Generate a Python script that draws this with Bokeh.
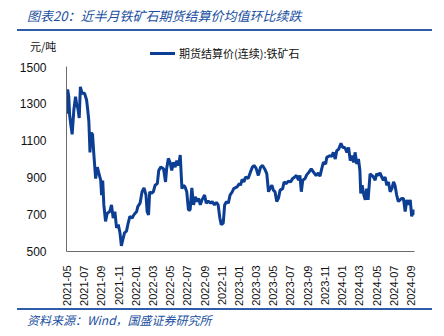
import math
from datetime import datetime
from bokeh.plotting import figure
from bokeh.layouts import column
from bokeh.models import (Range1d, FixedTicker, DatetimeTickFormatter, Div,
                          ColumnDataSource)
from bokeh.embed import file_html
from bokeh.resources import INLINE

# ---------------- data ----------------
dates = [
    "2021-05-01", "2021-05-05", "2021-05-09", "2021-05-12", "2021-05-17", "2021-05-21",
    "2021-05-27", "2021-06-02", "2021-06-06", "2021-06-10", "2021-06-15", "2021-06-19",
    "2021-06-25", "2021-07-04", "2021-07-11", "2021-07-15", "2021-07-19", "2021-07-23",
    "2021-07-27", "2021-08-01", "2021-08-06", "2021-08-12", "2021-08-18", "2021-08-24",
    "2021-08-30", "2021-09-02", "2021-09-06", "2021-09-10", "2021-09-16", "2021-09-22",
    "2021-10-01", "2021-10-07", "2021-10-13", "2021-10-19", "2021-10-25", "2021-10-31",
    "2021-11-06", "2021-11-11", "2021-11-15", "2021-11-22", "2021-11-29", "2021-12-05",
    "2021-12-11", "2021-12-19", "2021-12-25", "2022-01-04", "2022-01-08", "2022-01-16",
    "2022-01-23", "2022-01-30", "2022-02-06", "2022-02-10", "2022-02-15", "2022-02-19",
    "2022-02-25", "2022-03-04", "2022-03-10", "2022-03-18", "2022-03-23", "2022-03-30",
    "2022-04-09", "2022-04-16", "2022-04-20", "2022-04-26", "2022-05-02", "2022-05-08",
    "2022-05-14", "2022-05-20", "2022-05-26", "2022-06-01", "2022-06-07", "2022-06-13",
    "2022-06-18", "2022-06-24", "2022-06-30", "2022-07-06", "2022-07-12", "2022-07-18",
    "2022-07-24", "2022-07-30", "2022-08-05", "2022-08-11", "2022-08-17", "2022-08-23",
    "2022-09-01", "2022-09-07", "2022-09-14", "2022-09-22", "2022-09-28", "2022-10-06",
    "2022-10-13", "2022-10-19", "2022-10-25", "2022-10-30", "2022-11-06", "2022-11-11",
    "2022-11-18", "2022-11-24", "2022-11-30", "2022-12-08", "2022-12-13", "2022-12-25",
    "2023-01-02", "2023-01-06", "2023-01-12", "2023-01-18", "2023-01-24", "2023-02-02",
    "2023-02-10", "2023-02-17", "2023-02-23", "2023-03-02", "2023-03-10", "2023-03-18",
    "2023-03-25", "2023-04-03", "2023-04-09", "2023-04-15", "2023-04-20", "2023-04-27",
    "2023-05-02", "2023-05-08", "2023-05-14", "2023-05-20", "2023-05-26", "2023-06-04",
    "2023-06-09", "2023-06-16", "2023-06-24", "2023-07-02", "2023-07-09", "2023-07-17",
    "2023-07-23", "2023-07-30", "2023-08-04", "2023-08-09", "2023-08-14", "2023-08-22",
    "2023-08-28", "2023-09-05", "2023-09-13", "2023-09-21", "2023-09-30", "2023-10-08",
    "2023-10-14", "2023-10-20", "2023-10-26", "2023-11-03", "2023-11-07", "2023-11-17",
    "2023-11-25", "2023-11-30", "2023-12-07", "2023-12-12", "2023-12-19", "2023-12-27",
    "2024-01-03", "2024-01-10", "2024-01-17", "2024-01-23", "2024-01-29", "2024-02-05",
    "2024-02-10", "2024-02-15", "2024-02-21", "2024-02-27", "2024-03-03", "2024-03-06",
    "2024-03-11", "2024-03-17", "2024-03-22", "2024-03-27", "2024-04-01", "2024-04-08",
    "2024-04-14", "2024-04-20", "2024-04-26", "2024-05-01", "2024-05-07", "2024-05-13",
    "2024-05-19", "2024-05-25", "2024-05-31", "2024-06-06", "2024-06-12", "2024-06-18",
    "2024-06-24", "2024-06-30", "2024-07-05", "2024-07-11", "2024-07-17", "2024-07-23",
    "2024-07-29", "2024-08-04", "2024-08-10", "2024-08-16", "2024-08-22", "2024-08-28",
    "2024-09-02", "2024-09-06", "2024-09-09", "2024-09-12",
]
prices = [
    1245, 1376, 1337, 1239, 1177, 1133,
    1266, 1337, 1293, 1275, 1222, 1390,
    1355, 1355, 1319, 1266, 1204, 1036,
    1142, 1133, 1018, 894, 956, 920,
    884, 805, 884, 752, 663, 707,
    716, 752, 681, 716, 628, 645,
    601, 530, 557, 601, 610, 654,
    690, 681, 698, 716, 743, 761,
    823, 844, 805, 716, 698, 823,
    814, 823, 858, 867, 938, 956,
    947, 876, 947, 1003, 982, 938,
    982, 956, 991, 965, 1021, 840,
    858, 849, 823, 725, 725, 844,
    752, 796, 770, 787, 752, 779,
    805, 761, 773, 761, 770, 752,
    766, 752, 681, 645, 654, 752,
    770, 761, 805, 823, 840, 849,
    867, 858, 890, 876, 903, 894,
    929, 956, 965, 951, 911, 956,
    965, 942, 920, 823, 840, 858,
    832, 823, 770, 787, 832, 840,
    876, 867, 880, 876, 894, 903,
    911, 885, 911, 823, 885, 894,
    914, 929, 947, 929, 911, 925,
    907, 947, 982, 973, 1009, 1018,
    1014, 1036, 1000, 1044, 1053, 1085,
    1062, 1062, 1036, 1062, 991, 1018,
    982, 1036, 973, 1000, 938, 814,
    858, 805, 779, 840, 779, 920,
    911, 903, 885, 920, 911, 925,
    903, 885, 903, 858, 876, 823,
    840, 876, 858, 805, 770, 779,
    787, 787, 716, 779, 752, 779,
    690, 707, 725, 698,
]
tick_labels = ["2021-05", "2021-07", "2021-09", "2021-11", "2022-01", "2022-03",
               "2022-05", "2022-07", "2022-09", "2022-11", "2023-01", "2023-03",
               "2023-05", "2023-07", "2023-09", "2023-11", "2024-01", "2024-03",
               "2024-05", "2024-07", "2024-09"]
y_ticks = [500, 700, 900, 1100, 1300, 1500]
series_name = "期货结算价(连续):铁矿石"
title_text = "图表20：近半月铁矿石期货结算价均值环比续跌"
unit_text = "元/吨"
source_text = "资料来源：Wind，国盛证券研究所"

# ---------------- layout constants ----------------
W = 444
TOP_H = 62          # header div height
FIG_H = 246         # figure height
BOT_H = 336 - TOP_H - FIG_H
BLUE = "#0C3E93"
TBLUE = "#2050A0"
LBLUE = "#2F5DAA"
CJK = "'Noto Sans CJK SC', sans-serif"

header_html = f"""
<div style="position:relative;width:{W}px;height:{TOP_H}px;font-family:{CJK};">
  <div style="position:absolute;left:17px;top:0px;width:415px;height:31px;border-bottom:2px solid {LBLUE};"></div>
  <div style="position:absolute;left:27px;top:7px;font-size:13px;line-height:18px;font-style:italic;color:{TBLUE};white-space:nowrap;">{title_text}</div>
  <div style="position:absolute;left:30px;top:39px;font-size:11px;line-height:14px;color:#111;white-space:nowrap;">{unit_text}</div>
  <div style="position:absolute;left:150px;top:52px;width:25px;height:3px;background:{BLUE};"></div>
  <div style="position:absolute;left:179px;top:46px;font-size:11px;line-height:14px;color:#111;white-space:nowrap;">{series_name}</div>
</div>
"""
footer_html = f"""
<div style="position:relative;width:{W}px;height:{BOT_H}px;font-family:{CJK};">
  <div style="position:absolute;left:17px;top:0px;width:415px;height:0px;border-top:2px solid {LBLUE};"></div>
  <div style="position:absolute;left:27px;top:4px;font-size:12px;line-height:16px;font-style:italic;color:{TBLUE};white-space:nowrap;">{source_text}</div>
</div>
"""
header = Div(text=header_html, width=W, height=TOP_H, margin=(0, 0, 0, 0))
footer = Div(text=footer_html, width=W, height=BOT_H, margin=(0, 0, 0, 0))

# ---------------- figure ----------------
FL, FR = 66, 414
FT, FB = 66 - TOP_H, 254 - TOP_H    # frame top/bottom inside figure

xs = [datetime.strptime(d, "%Y-%m-%d") for d in dates]
src = ColumnDataSource(dict(x=xs, y=prices))

p = figure(width=W, height=FIG_H, x_axis_type="datetime", output_backend="svg",
           toolbar_location=None, title=None, margin=(0, 0, 0, 0),
           x_range=Range1d(datetime(2021, 5, 1), datetime(2024, 9, 12)),
           y_range=Range1d(500, 1500),
           min_border_left=FL, min_border_right=W - FR,
           min_border_top=FT, min_border_bottom=FIG_H - FB)
p.outline_line_color = None
p.background_fill_color = "white"
p.border_fill_color = "white"
p.xgrid.visible = False
p.ygrid.visible = False

p.line("x", "y", source=src, line_color=BLUE, line_width=3)

tick_ms = [datetime.strptime(t, "%Y-%m").timestamp() * 1000 for t in tick_labels]
p.xaxis.ticker = FixedTicker(ticks=tick_ms)
p.xaxis.formatter = DatetimeTickFormatter(days="%Y-%m", months="%Y-%m", years="%Y-%m",
                                          hours="%Y-%m", minutes="%Y-%m")
p.xaxis.major_label_orientation = math.pi / 2
p.yaxis.ticker = FixedTicker(ticks=y_ticks)

for ax in (p.xaxis[0], p.yaxis[0]):
    ax.axis_line_color = "#6b6b6b"
    ax.axis_line_width = 1
    ax.major_tick_line_color = None
    ax.minor_tick_line_color = None
    ax.major_label_text_font = "Liberation Sans"
    ax.major_label_text_color = "#111111"
p.xaxis.major_label_text_font_size = "11px"
p.xaxis.major_label_standoff = 8
p.yaxis.major_label_text_font_size = "12px"
p.yaxis.major_label_standoff = 14

layout = column(header, p, footer, spacing=0, margin=(0, 0, 0, 0))
open("out.html", "w").write(file_html(layout, INLINE))
